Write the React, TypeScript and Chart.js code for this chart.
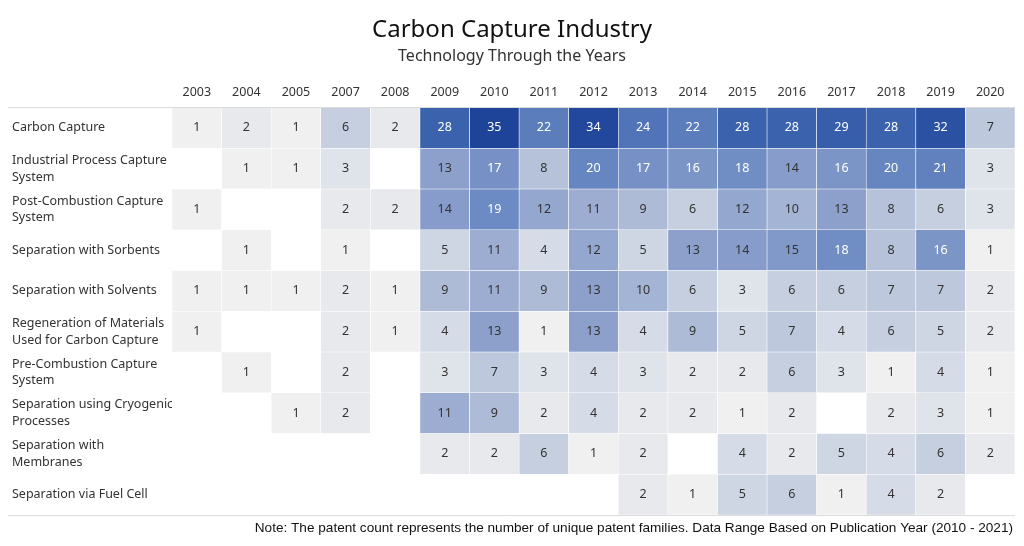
import React, { useEffect, useRef } from 'react';
import { Chart, registerables } from 'chart.js';
Chart.register(...registerables);

const years = ['2003', '2004', '2005', '2007', '2008', '2009', '2010', '2011', '2012', '2013', '2014', '2015', '2016', '2017', '2018', '2019', '2020'];

const rowLabels: string[][] = [
  ['Carbon Capture'],
  ['Industrial Process Capture', 'System'],
  ['Post-Combustion Capture', 'System'],
  ['Separation with Sorbents'],
  ['Separation with Solvents'],
  ['Regeneration of Materials', 'Used for Carbon Capture'],
  ['Pre-Combustion Capture', 'System'],
  ['Separation using Cryogenic', 'Processes'],
  ['Separation with', 'Membranes'],
  ['Separation via Fuel Cell'],
];

const carbonCapture = [1, 2, 1, 6, 2, 28, 35, 22, 34, 24, 22, 28, 28, 29, 28, 32, 7];
const industrialProcess = [null, 1, 1, 3, null, 13, 17, 8, 20, 17, 16, 18, 14, 16, 20, 21, 3];
const postCombustion = [1, null, null, 2, 2, 14, 19, 12, 11, 9, 6, 12, 10, 13, 8, 6, 3];
const sorbents = [null, 1, null, 1, null, 5, 11, 4, 12, 5, 13, 14, 15, 18, 8, 16, 1];
const solvents = [1, 1, 1, 2, 1, 9, 11, 9, 13, 10, 6, 3, 6, 6, 7, 7, 2];
const regeneration = [1, null, null, 2, 1, 4, 13, 1, 13, 4, 9, 5, 7, 4, 6, 5, 2];
const preCombustion = [null, 1, null, 2, null, 3, 7, 3, 4, 3, 2, 2, 6, 3, 1, 4, 1];
const cryogenic = [null, null, 1, 2, null, 11, 9, 2, 4, 2, 2, 1, 2, null, 2, 3, 1];
const membranes = [null, null, null, null, null, 2, 2, 6, 1, 2, null, 4, 2, 5, 4, 6, 2];
const fuelCell = [null, null, null, null, null, null, null, null, null, 2, 1, 5, 6, 1, 4, 2, null];

const rows: (number | null)[][] = [
  carbonCapture, industrialProcess, postCombustion, sorbents, solvents,
  regeneration, preCombustion, cryogenic, membranes, fuelCell,
];

const colorStops: [number, number[]][] = [
  [1, [240, 240, 240]],
  [2, [231, 233, 237]],
  [6, [197, 207, 224]],
  [13, [140, 160, 203]],
  [19, [108, 138, 195]],
  [28, [58, 98, 173]],
  [35, [30, 68, 154]],
];

function colorFor(v: number): string {
  if (v <= colorStops[0][0]) return `rgb(${colorStops[0][1].join(',')})`;
  for (let i = 1; i < colorStops.length; i++) {
    const [v1, c1] = colorStops[i];
    const [v0, c0] = colorStops[i - 1];
    if (v <= v1) {
      const t = (v - v0) / (v1 - v0);
      const c = c0.map((x, k) => Math.round(x + (c1[k] - x) * t));
      return `rgb(${c.join(',')})`;
    }
  }
  return `rgb(${colorStops[colorStops.length - 1][1].join(',')})`;
}

const FONT = "'Noto Sans', 'Open Sans', sans-serif";

const decorPlugin = {
  id: 'decor',
  beforeDraw(chart: any) {
    const { ctx } = chart;
    ctx.save();
    ctx.fillStyle = '#fff';
    ctx.fillRect(0, 0, chart.width, chart.height);
    ctx.restore();
  },
  afterDraw(chart: any) {
    const { ctx, chartArea } = chart;
    ctx.save();
    ctx.textAlign = 'center';
    ctx.textBaseline = 'middle';
    ctx.fillStyle = '#111';
    ctx.font = `24px ${FONT}`;
    ctx.fillText('Carbon Capture Industry', 512, 30);
    ctx.fillStyle = '#333';
    ctx.font = `16px ${FONT}`;
    ctx.fillText('Technology Through the Years', 512, 56);

    ctx.strokeStyle = '#dcdcdc';
    ctx.lineWidth = 1;
    ctx.beginPath();
    ctx.moveTo(8, Math.round(chartArea.top) - 0.5);
    ctx.lineTo(chartArea.right, Math.round(chartArea.top) - 0.5);
    ctx.moveTo(8, Math.round(chartArea.bottom) + 0.5);
    ctx.lineTo(chartArea.right, Math.round(chartArea.bottom) + 0.5);
    ctx.stroke();

    ctx.textAlign = 'right';
    ctx.fillStyle = '#111';
    ctx.font = "13.6px 'Liberation Sans', Arial, sans-serif";
    ctx.fillText('Note: The patent count represents the number of unique patent families. Data Range Based on Publication Year (2010 - 2021)', 1013, 528);
    ctx.restore();
  },
  afterDatasetsDraw(chart: any) {
    const { ctx } = chart;
    ctx.save();
    ctx.textAlign = 'center';
    ctx.textBaseline = 'middle';
    ctx.font = `12.5px ${FONT}`;
    chart.data.datasets.forEach((ds: any, i: number) => {
      const meta = chart.getDatasetMeta(i);
      const vals = rows[i];
      meta.data.forEach((el: any, j: number) => {
        const v = vals[j];
        if (v == null) return;
        ctx.fillStyle = v >= 16 ? '#ffffff' : '#333333';
        ctx.fillText(String(v), el.x, (el.y + el.base) / 2);
      });
    });
    ctx.restore();
  },
};

export default function App() {
  const ref = useRef<HTMLCanvasElement>(null);
  useEffect(() => {
    if (!ref.current) return;
    const chart = new Chart(ref.current, {
      type: 'bar',
      data: {
        labels: years,
        datasets: rows.map((vals, i) => ({
          label: rowLabels[i].join(' '),
          data: vals.map((v) => (v == null ? null : [i - 0.5, i + 0.5])) as any,
          backgroundColor: vals.map((v) => (v == null ? 'rgba(0,0,0,0)' : colorFor(v))),
          borderColor: '#ffffff',
          borderWidth: 0.6,
          borderSkipped: false,
          barPercentage: 1,
          categoryPercentage: 1,
          grouped: false,
        })),
      },
      options: {
        responsive: false,
        animation: false,
        layout: { padding: { left: 12, right: 9, top: 70, bottom: 31 } },
        plugins: {
          legend: { display: false },
          tooltip: { enabled: false },
          title: { display: false },
        },
        scales: {
          x: {
            type: 'category',
            position: 'top',
            grid: { display: false },
            border: { display: false },
            ticks: { color: '#333', font: { family: FONT, size: 12.5 }, padding: 0, maxRotation: 0, autoSkip: false },
            afterFit: (s: any) => { s.height = 37.5; },
          },
          y: {
            type: 'linear',
            min: -0.5,
            max: 9.5,
            reverse: true,
            grid: { display: false },
            border: { display: false },
            afterBuildTicks: (s: any) => { s.ticks = rowLabels.map((_, i) => ({ value: i })); },
            ticks: {
              color: '#333',
              font: { family: FONT, size: 12.5, lineHeight: 1.35 },
              crossAlign: 'far',
              callback: (v: any) => rowLabels[v as number] ?? '',
            },
            afterFit: (s: any) => { s.width = 160; },
          },
        },
      },
      plugins: [decorPlugin],
    });
    return () => chart.destroy();
  }, []);
  return (
    <div style={{ position: 'absolute', left: 0, top: 0, width: 1024, height: 546, background: '#fff' }}>
      <canvas ref={ref} width={1024} height={546} />
    </div>
  );
}
